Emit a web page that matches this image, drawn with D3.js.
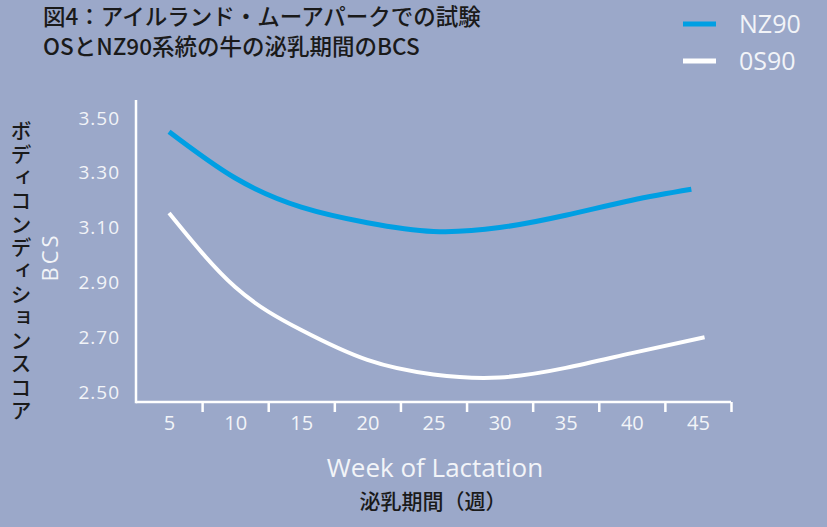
<!DOCTYPE html>
<html>
<head>
<meta charset="utf-8">
<script src="https://cdn.jsdelivr.net/npm/d3@7/dist/d3.min.js"></script>
<style>
  html, body { margin: 0; padding: 0; background: #9ba8c9; }
  svg { display: block; }
</style>
</head>
<body>
<svg id="chart" width="827" height="527"></svg>
<script>
// Week of lactation and body condition score per line
const nzWeeks = [5, 10, 15, 20, 25, 30, 35, 40, 44.5];
const nzBCS   = [3.45, 3.281, 3.175, 3.118, 3.086, 3.10, 3.145, 3.20, 3.24];
const osWeeks = [5, 10, 15, 20, 25, 30, 35, 40, 45.5];
const osBCS   = [3.153, 2.883, 2.726, 2.617, 2.564, 2.553, 2.588, 2.642, 2.70];

const weekLabels = [5, 10, 15, 20, 25, 30, 35, 40, 45];
const weekTicks  = [7.5, 12.5, 17.5, 22.5, 27.5, 32.5, 37.5, 42.5, 47.5];
const bcsLabels  = [2.5, 2.7, 2.9, 3.1, 3.3, 3.5];

const seriesNames = ["NZ90", "0S90"];
const seriesColors = ["#009fe3", "#ffffff"];

const svg = d3.select("#chart");
const latin = "'Open Sans', 'Noto Sans', sans-serif";
const cjk = "'Noto Sans CJK JP', sans-serif";

svg.append("rect").attr("width", 827).attr("height", 527).attr("fill", "#9ba8c9");

const x = d3.scaleLinear().domain([2.5, 47.5]).range([136, 731]);
const y = d3.scaleLinear().domain([2.4635, 3.5657]).range([402, 100]);

// axes
const axisColor = "#ffffff";
svg.append("line")
  .attr("x1", x(2.5)).attr("x2", x(2.5))
  .attr("y1", y.range()[1]).attr("y2", y.range()[0] + 1.25)
  .attr("stroke", axisColor).attr("stroke-width", 2.5);

const xAxis = svg.append("g").attr("transform", `translate(0,${y.range()[0]})`)
  .call(d3.axisBottom(x).tickValues(weekTicks).tickSize(10).tickFormat(""));
xAxis.select(".domain").attr("stroke", axisColor).attr("stroke-width", 2.5)
  .attr("d", `M${x.range()[0]},0H${x.range()[1]}`);
xAxis.selectAll(".tick line").attr("stroke", axisColor).attr("stroke-width", 2.5);

const xLabels = svg.append("g").attr("transform", `translate(0,${y.range()[0]})`)
  .call(d3.axisBottom(x).tickValues(weekLabels).tickSize(0).tickPadding(14));
xLabels.select(".domain").remove();
xLabels.selectAll("text")
  .attr("fill", "#f2f4f8").attr("font-size", 20).attr("font-family", latin);

const yLabels = svg.append("g").attr("transform", `translate(120,0)`)
  .call(d3.axisLeft(y).tickValues(bcsLabels).tickSize(0).tickPadding(0).tickFormat(d3.format(".2f")));
yLabels.select(".domain").remove();
yLabels.selectAll("text")
  .attr("fill", "#f2f4f8").attr("font-size", 19).attr("font-family", latin)
  .attr("letter-spacing", 1);

// lines
const line = d3.line().x(d => x(d[0])).y(d => y(d[1])).curve(d3.curveNatural);
const series = [
  { pts: d3.zip(nzWeeks, nzBCS), color: seriesColors[0], width: 5 },
  { pts: d3.zip(osWeeks, osBCS), color: seriesColors[1], width: 4 }
];
svg.append("g").selectAll("path").data(series).join("path")
  .attr("d", d => line(d.pts))
  .attr("fill", "none")
  .attr("stroke", d => d.color)
  .attr("stroke-width", d => d.width);

// legend
const legend = svg.append("g");
seriesNames.forEach((name, i) => {
  const ly = 24 + i * 37;
  legend.append("line").attr("x1", 683).attr("x2", 716).attr("y1", ly).attr("y2", ly)
    .attr("stroke", seriesColors[i]).attr("stroke-width", 5);
  legend.append("text").attr("x", 739).attr("y", ly).attr("dy", "0.36em")
    .attr("fill", "#f2f4f8").attr("font-size", 25).attr("font-family", latin)
    .text(name);
});

// titles
const title = svg.append("g").attr("font-family", cjk).attr("font-weight", 500)
  .attr("font-size", 22.5).attr("fill", "#1a1a1a");
title.append("text").attr("x", 43).attr("y", 25).text("図4：アイルランド・ムーアパークでの試験");
title.append("text").attr("x", 43).attr("y", 55).text("OSとNZ90系統の牛の泌乳期間のBCS");

// axis titles
svg.append("text").attr("x", 435).attr("y", 468).attr("dy", "0.36em")
  .attr("text-anchor", "middle").attr("fill", "#f2f4f8")
  .attr("font-size", 26).attr("font-family", latin)
  .text("Week of Lactation");
svg.append("text").attr("x", 433).attr("y", 501).attr("dy", "0.36em")
  .attr("text-anchor", "middle").attr("fill", "#1a1a1a")
  .attr("font-size", 21).attr("font-family", cjk).attr("font-weight", 500)
  .text("泌乳期間（週）");

svg.append("text")
  .attr("transform", "translate(58,257) rotate(-90)")
  .attr("text-anchor", "middle").attr("fill", "#f2f4f8")
  .attr("font-size", 22).attr("font-family", latin).attr("letter-spacing", 3)
  .text("BCS");

svg.append("text")
  .attr("x", 21).attr("y", 120)
  .style("writing-mode", "vertical-rl")
  .attr("fill", "#1a1a1a").attr("font-size", 21).attr("font-family", cjk)
  .attr("font-weight", 500)
  .attr("letter-spacing", 2.3)
  .text("ボディコンディションスコア");
</script>
</body>
</html>
